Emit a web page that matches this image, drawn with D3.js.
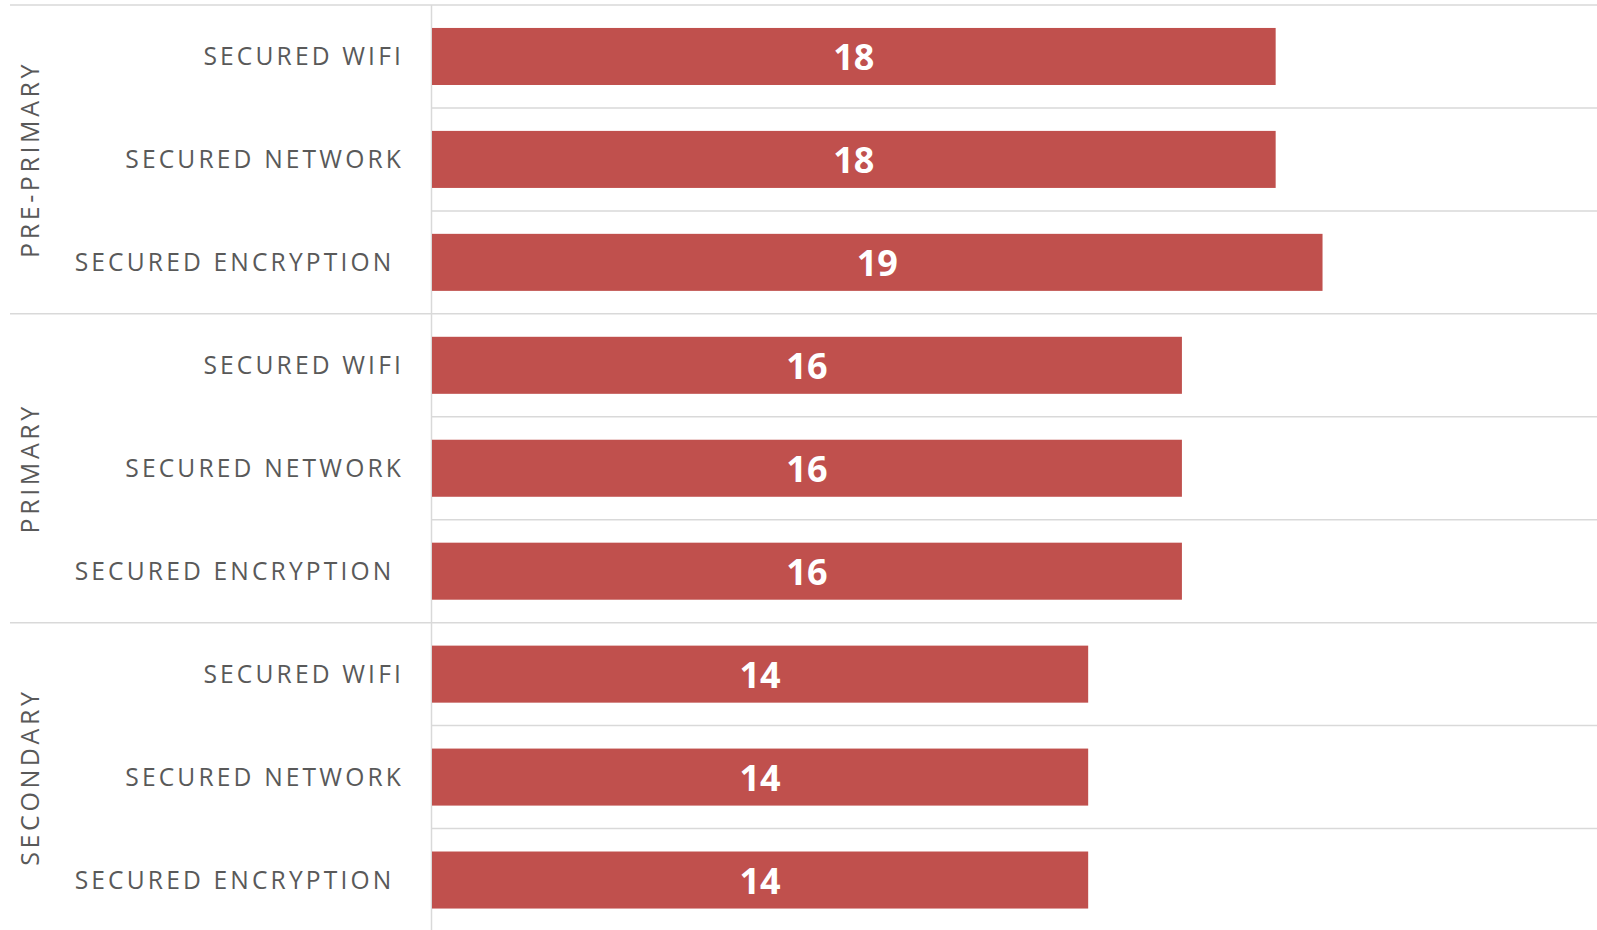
<!DOCTYPE html>
<html>
<head>
<meta charset="utf-8">
<script src="https://cdn.jsdelivr.net/npm/d3@7"></script>
<style>
  html, body { margin: 0; padding: 0; background: #ffffff; }
  svg { display: block; }
  text { white-space: pre; }
</style>
</head>
<body>
<svg id="chart" width="1597" height="930"></svg>
<script>
// ---- data ----
const groups = ["PRE-PRIMARY", "PRIMARY", "SECONDARY"];
const items = ["SECURED WIFI", "SECURED NETWORK", "SECURED ENCRYPTION "];
const prePrimaryValues = [18, 18, 19];
const primaryValues = [16, 16, 16];
const secondaryValues = [14, 14, 14];
const xTicks = [0, 5, 10, 15, 20, 25];

// build rows
const groupValues = [prePrimaryValues, primaryValues, secondaryValues];
const rows = [];
groups.forEach((g, gi) => {
  items.forEach((it, ii) => {
    rows.push({ key: g + "|" + it, group: g, gi, item: it, ii, value: groupValues[gi][ii] });
  });
});

// ---- layout ----
const W = 1597, H = 930;
const axisX = 432;
const plotTop = 5, plotBottom = 931.5;
const svg = d3.select("#chart");

const x = d3.scaleLinear().domain([0, d3.max(xTicks)]).range([axisX, axisX + 25 * 46.87]);
const y = d3.scaleBand().domain(rows.map(d => d.key)).range([plotTop, plotBottom])
  .paddingInner(0.446).paddingOuter(0.223);

const step = y.step();
const gap = (step - y.bandwidth()) / 2;
const rowTop = d => y(d.key) - gap;

const gridColor = "#d9d9d9";
const textColor = "#595959";
const barColor = "#c0504d";

// horizontal gridlines (row boundaries)
const lines = rows.map(d => ({ yy: rowTop(d), full: d.ii === 0 }));
svg.append("g").selectAll("line").data(lines).join("line")
  .attr("x1", d => d.full ? 10 : axisX)
  .attr("x2", W)
  .attr("y1", d => d.yy).attr("y2", d => d.yy)
  .attr("stroke", gridColor).attr("stroke-width", 1.5);

// vertical axis line
svg.append("line")
  .attr("x1", axisX - 0.5).attr("x2", axisX - 0.5)
  .attr("y1", plotTop).attr("y2", H)
  .attr("stroke", gridColor).attr("stroke-width", 1.5);

// bars
svg.append("g").selectAll("rect").data(rows).join("rect")
  .attr("x", x(0))
  .attr("y", d => y(d.key))
  .attr("width", d => x(d.value) - x(0))
  .attr("height", y.bandwidth())
  .attr("fill", barColor);

// data labels
svg.append("g").selectAll("text").data(rows).join("text")
  .attr("x", d => (x(0) + x(d.value)) / 2)
  .attr("y", d => y(d.key) + y.bandwidth() / 2)
  .attr("dy", "0.38em")
  .attr("text-anchor", "middle")
  .attr("font-family", "'Open Sans', sans-serif")
  .attr("font-weight", "bold")
  .attr("font-size", 36)
  .attr("fill", "#ffffff")
  .text(d => d.value);

// category labels
svg.append("g").selectAll("text").data(rows).join("text")
  .attr("x", 404)
  .attr("y", d => y(d.key) + y.bandwidth() / 2)
  .attr("dy", "0.36em")
  .attr("text-anchor", "end")
  .attr("font-family", "'Open Sans', sans-serif")
  .attr("font-size", 24.6)
  .attr("letter-spacing", 3.15)
  .attr("fill", textColor)
  .text(d => d.item);

// group labels
const groupInfo = groups.map((g, gi) => {
  const grs = rows.filter(r => r.gi === gi);
  const y0 = rowTop(grs[0]);
  const y1 = rowTop(grs[grs.length - 1]) + step;
  return { g, cy: (y0 + y1) / 2 };
});
svg.append("g").selectAll("text").data(groupInfo).join("text")
  .attr("transform", d => `translate(30,${d.cy}) rotate(-90)`)
  .attr("dy", "0.36em")
  .attr("text-anchor", "middle")
  .attr("font-family", "'Open Sans', sans-serif")
  .attr("font-size", 25)
  .attr("letter-spacing", 3.6)
  .attr("fill", textColor)
  .text(d => d.g);
</script>
</body>
</html>
